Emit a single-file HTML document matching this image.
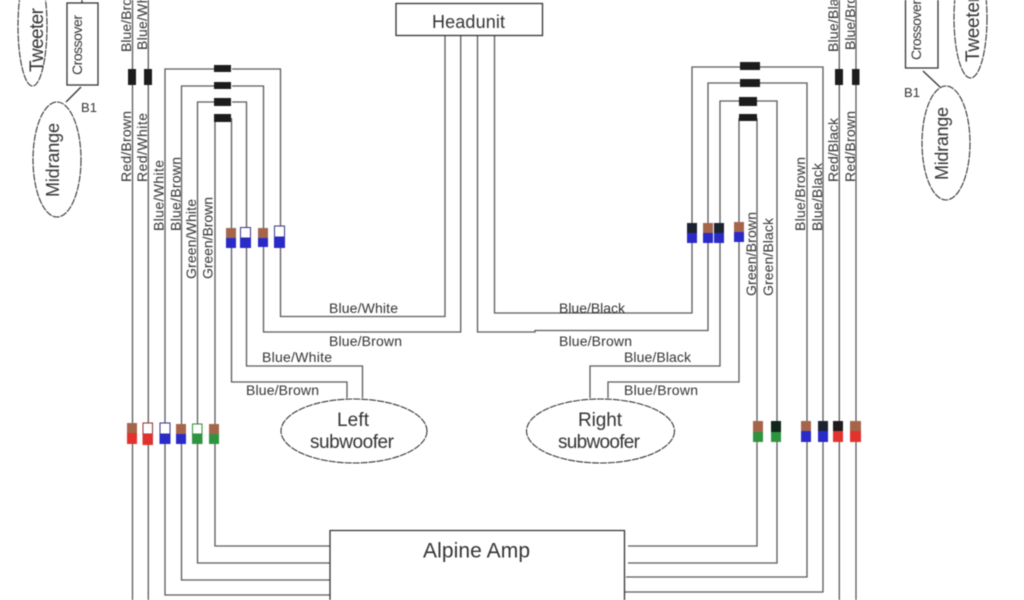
<!DOCTYPE html>
<html>
<head>
<meta charset="utf-8">
<style>
html,body{margin:0;padding:0;background:#fff;width:1024px;height:600px;overflow:hidden}
svg{display:block;filter:blur(.4px)}
text{font-family:"Liberation Sans",sans-serif;fill:#333}
.w{font-size:14px}
</style>
</head>
<body>
<svg width="1024" height="600" viewBox="0 0 1024 600" xmlns="http://www.w3.org/2000/svg">
<rect width="1024" height="600" fill="#fff"/>

<!-- wires -->
<g fill="none" stroke="#5a5a5a" stroke-width="1.3">
<path d="M132.5 0V600M148.3 0V600M839.3 0V600M856 0V600"/>
<path d="M330 595H165V69H214M232 69H280.5V316.5H445V35"/>
<path d="M330 580H181.5V86H214M232 86H263.5V332H460.7V35"/>
<path d="M330 563H197.5V102H214M232 102H246.5V366H362.5V398"/>
<path d="M330 546H215V118M231.5 118V382H347V398"/>
<path d="M477.5 35V332H535V330.5H708V83H740M760 83H807V577H626"/>
<path d="M494.5 35V313H692V67H740M760 67H823V592H625"/>
<path d="M590 398V366H720V101H739M757 101H777V563H628"/>
<path d="M608 398V382H739V118M757 118V546H628"/>
</g>

<!-- boxes -->
<g fill="none" stroke="#333" stroke-width="1.3">
<rect x="396" y="3.5" width="146.5" height="32" fill="#fff"/>
<path d="M330 600V530.5H624.5V600"/>
<rect x="67" y="3" width="31" height="82"/>
<path d="M82 0V3M81 87L66 102"/>
<path d="M905.500 -2V68H938V-2M923 71L940 87"/>
</g>

<!-- ellipses -->
<g fill="#fff" stroke="#333" stroke-width="1.1" stroke-dasharray="7 1">
<ellipse cx="354" cy="431" rx="73" ry="32"/>
<ellipse cx="600.500" cy="431" rx="74" ry="32"/>
<ellipse cx="32.500" cy="26" rx="14.500" ry="60"/>
<ellipse cx="57" cy="159.500" rx="24" ry="57.500"/>
<ellipse cx="970.500" cy="18" rx="16.500" ry="60"/>
<ellipse cx="946" cy="143" rx="24" ry="57"/>
</g>

<!-- black connectors -->
<g fill="#1c1c1c">
<rect x="128" y="69" width="8" height="16"/>
<rect x="144" y="69" width="8" height="16"/>
<rect x="835" y="69" width="8" height="16"/>
<rect x="852" y="69" width="7.500" height="16"/>
<rect x="214" y="65" width="17" height="7"/>
<rect x="214" y="82" width="17" height="7"/>
<rect x="214" y="98" width="17" height="8"/>
<rect x="214" y="114" width="17" height="8"/>
<rect x="740" y="62" width="20" height="8"/>
<rect x="740" y="79" width="20" height="8"/>
<rect x="739" y="97" width="18" height="9"/>
<rect x="739" y="114" width="18" height="7"/>
</g>

<!-- two-colour connectors -->
<g>
<rect x="226" y="228" width="10" height="10" fill="#a5654a"/><rect x="226" y="238" width="10" height="10" fill="#2a2ac8"/>
<rect x="240.500" y="227.500" width="10" height="10.500" fill="#fff" stroke="#33338a" stroke-width="1"/><rect x="240" y="238" width="11" height="10" fill="#2a2ac8"/>
<rect x="258" y="228" width="10" height="10" fill="#a5654a"/><rect x="258" y="238" width="10" height="9" fill="#2a2ac8"/>
<rect x="274.500" y="226" width="10" height="11" fill="#fff" stroke="#33338a" stroke-width="1"/><rect x="274" y="237" width="11" height="11" fill="#2a2ac8"/>

<rect x="687" y="223" width="10" height="10" fill="#1c2230"/><rect x="687" y="233" width="10" height="10" fill="#2a2ac8"/>
<rect x="703" y="223" width="10" height="10" fill="#a5654a"/><rect x="703" y="233" width="10" height="10" fill="#2a2ac8"/>
<rect x="714" y="223" width="10" height="10" fill="#1c2230"/><rect x="714" y="233" width="10" height="10" fill="#2a2ac8"/>
<rect x="734" y="222" width="10" height="10" fill="#a5654a"/><rect x="734" y="232" width="10" height="10" fill="#2a2ac8"/>

<rect x="127" y="423" width="10" height="10" fill="#a5654a"/><rect x="127" y="433" width="10" height="11" fill="#e2322e"/>
<rect x="143" y="423" width="9.500" height="11" fill="#fff" stroke="#8a3333" stroke-width="1"/><rect x="142.500" y="434" width="10.500" height="11" fill="#e2322e"/>
<rect x="160" y="423" width="10" height="11" fill="#fff" stroke="#33338a" stroke-width="1"/><rect x="159.500" y="434" width="11" height="10" fill="#2a2ac8"/>
<rect x="176" y="424" width="10" height="10" fill="#a5654a"/><rect x="176" y="434" width="10" height="10" fill="#2a2ac8"/>
<rect x="192.500" y="424" width="9.500" height="10" fill="#fff" stroke="#338a33" stroke-width="1"/><rect x="192" y="434" width="10.500" height="10" fill="#2e9440"/>
<rect x="209" y="424" width="10" height="10" fill="#a5654a"/><rect x="209" y="434" width="10" height="10" fill="#2e9440"/>

<rect x="753" y="421" width="10" height="11" fill="#a5654a"/><rect x="753" y="432" width="10" height="10" fill="#2e9440"/>
<rect x="771" y="421" width="10" height="11" fill="#10261a"/><rect x="771" y="432" width="10" height="10" fill="#2e9440"/>
<rect x="801" y="421" width="10" height="10" fill="#a5654a"/><rect x="801" y="431" width="10" height="11" fill="#2a2ac8"/>
<rect x="818" y="421" width="10" height="10" fill="#1c2230"/><rect x="818" y="431" width="10" height="11" fill="#2a2ac8"/>
<rect x="833" y="421" width="10" height="10" fill="#1c1c1c"/><rect x="833" y="431" width="10" height="11" fill="#e2322e"/>
<rect x="850" y="421" width="11" height="10" fill="#a5654a"/><rect x="850" y="431" width="11" height="11" fill="#e2322e"/>
</g>

<!-- horizontal wire labels -->
<g>
<text class="w" x="329" y="313" textLength="69" lengthAdjust="spacing">Blue/White</text>
<text class="w" x="329" y="346" textLength="73" lengthAdjust="spacing">Blue/Brown</text>
<text class="w" x="262" y="362" textLength="70" lengthAdjust="spacing">Blue/White</text>
<text class="w" x="246" y="395" textLength="73" lengthAdjust="spacing">Blue/Brown</text>
<text class="w" x="559" y="313" textLength="66" lengthAdjust="spacing">Blue/Black</text>
<text class="w" x="559" y="346" textLength="73" lengthAdjust="spacing">Blue/Brown</text>
<text class="w" x="624" y="362" textLength="67" lengthAdjust="spacing">Blue/Black</text>
<text class="w" x="624" y="395" textLength="74" lengthAdjust="spacing">Blue/Brown</text>
</g>

<!-- vertical wire labels -->
<g>
<text class="w" transform="translate(131,52) rotate(-90)" textLength="72" lengthAdjust="spacing">Blue/Brown</text>
<text class="w" transform="translate(147,50) rotate(-90)" textLength="70" lengthAdjust="spacing">Blue/White</text>
<text class="w" transform="translate(131,182) rotate(-90)" textLength="71" lengthAdjust="spacing">Red/Brown</text>
<text class="w" transform="translate(147,182) rotate(-90)" textLength="69" lengthAdjust="spacing">Red/White</text>
<text class="w" transform="translate(163.500,231) rotate(-90)" textLength="71" lengthAdjust="spacing">Blue/White</text>
<text class="w" transform="translate(180.500,231) rotate(-90)" textLength="74" lengthAdjust="spacing">Blue/Brown</text>
<text class="w" transform="translate(196,279) rotate(-90)" textLength="80" lengthAdjust="spacing">Green/White</text>
<text class="w" transform="translate(212.500,279) rotate(-90)" textLength="82" lengthAdjust="spacing">Green/Brown</text>
<text class="w" transform="translate(756,296) rotate(-90)" textLength="84" lengthAdjust="spacing">Green/Brown</text>
<text class="w" transform="translate(773,296) rotate(-90)" textLength="78" lengthAdjust="spacing">Green/Black</text>
<text class="w" transform="translate(805,231) rotate(-90)" textLength="74" lengthAdjust="spacing">Blue/Brown</text>
<text class="w" transform="translate(822,231) rotate(-90)" textLength="68" lengthAdjust="spacing">Blue/Black</text>
<text class="w" transform="translate(838,182) rotate(-90)" textLength="64" lengthAdjust="spacing">Red/Black</text>
<text class="w" transform="translate(855,182) rotate(-90)" textLength="71" lengthAdjust="spacing">Red/Brown</text>
<text class="w" transform="translate(838,52) rotate(-90)" textLength="68" lengthAdjust="spacing">Blue/Black</text>
<text class="w" transform="translate(855,50) rotate(-90)" textLength="72" lengthAdjust="spacing">Blue/Brown</text>
</g>

<!-- component labels -->
<g>
<text x="432" y="28" font-size="18" textLength="73" lengthAdjust="spacing">Headunit</text>
<text x="337" y="426" font-size="19" textLength="32" lengthAdjust="spacing">Left</text>
<text x="310" y="448" font-size="19" textLength="84" lengthAdjust="spacing">subwoofer</text>
<text x="578" y="426" font-size="19" textLength="44" lengthAdjust="spacing">Right</text>
<text x="558" y="448" font-size="19" textLength="82" lengthAdjust="spacing">subwoofer</text>
<text x="423" y="557.500" font-size="21" textLength="107" lengthAdjust="spacing" fill="#222">Alpine Amp</text>
<text x="81" y="112" font-size="13" textLength="16" lengthAdjust="spacing">B1</text>
<text x="904" y="97" font-size="13" textLength="16" lengthAdjust="spacing">B1</text>
<text transform="translate(43,72) rotate(-90)" font-size="19" textLength="64" lengthAdjust="spacing">Tweeter</text>
<text transform="translate(82,75) rotate(-90)" font-size="14" textLength="60" lengthAdjust="spacing">Crossover</text>
<text transform="translate(59,197) rotate(-90)" font-size="18" textLength="74" lengthAdjust="spacing">Midrange</text>
<text transform="translate(921,60) rotate(-90)" font-size="14" textLength="60" lengthAdjust="spacing">Crossover</text>
<text transform="translate(948,180) rotate(-90)" font-size="18" textLength="73" lengthAdjust="spacing">Midrange</text>
<text transform="translate(979,62) rotate(-90)" font-size="19" textLength="66" lengthAdjust="spacing">Tweeter</text>
</g>
</svg>
</body>
</html>
